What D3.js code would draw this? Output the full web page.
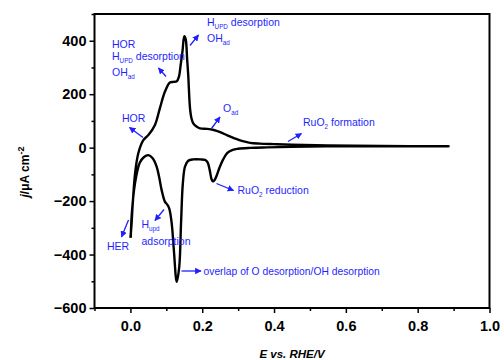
<!DOCTYPE html>
<html><head><meta charset="utf-8">
<script src="https://cdn.jsdelivr.net/npm/d3@7"></script>
<style>body{margin:0;background:#fff}svg{display:block}text{font-family:"Liberation Sans",Arial,sans-serif}</style>
</head><body><svg id="c" width="504" height="360"></svg>
<script>
// ---- data ----
const anodicE = [0.000,0.003,0.006,0.013,0.022,0.036,0.050,0.068,0.082,0.096,0.110,0.120,0.129,0.135,0.140,0.145,0.150,0.154,0.158,0.161,0.166,0.170,0.175,0.185,0.194,0.214,0.232,0.250,0.270,0.290,0.310,0.333,0.360,0.400,0.450,0.550,0.700,0.886];
const anodicJ = [-338,-290,-221,-96,-21,28,47,84,147,209,244,246,248,265,310,360,417,405,330,272,147,110,91,78,72,70,66,58,46,35,25,18,15,13,11,8,6,5];
const cathodicE = [0.886,0.700,0.546,0.450,0.380,0.333,0.300,0.285,0.270,0.258,0.248,0.240,0.234,0.230,0.226,0.221,0.215,0.208,0.195,0.175,0.161,0.152,0.146,0.141,0.136,0.129,0.121,0.115,0.108,0.102,0.096,0.087,0.080,0.073,0.062,0.050,0.038,0.026,0.013,0.004,0.001];
const cathodicJ = [5,5,5,3,1,-1,-4,-8,-20,-45,-75,-105,-122,-126,-118,-85,-55,-46,-44,-44,-49,-71,-134,-283,-446,-502,-383,-283,-227,-212,-202,-159,-110,-71,-40,-28,-35,-57,-132,-245,-336];
const xTicks = [0.0,0.2,0.4,0.6,0.8,1.0];
const xMinor = [-0.1,0.1,0.3,0.5,0.7,0.9];
const yTicks = [-600,-400,-200,0,200,400];
const yMinor = [-500,-300,-100,100,300,500];

// ---- layout ----
const svg = d3.select("#c");
const L=94.5,R=489.5,T=14,B=308;
const x = d3.scaleLinear().domain([-0.1,1.0]).range([L,R]);
const y = d3.scaleLinear().domain([-600,500]).range([B,T]);

// axes
svg.append("g").attr("transform",`translate(0,${B})`)
  .call(d3.axisBottom(x).tickValues(xTicks).tickFormat(d3.format(".1f")).tickSize(5).tickPadding(8));
svg.append("g").attr("transform",`translate(0,${B})`)
  .call(d3.axisBottom(x).tickValues(xMinor).tickFormat("").tickSize(3));
svg.append("g").attr("transform",`translate(${L},0)`)
  .call(d3.axisLeft(y).tickValues(yTicks).tickFormat(d3.format("d")).tickSize(5).tickPadding(3));
svg.append("g").attr("transform",`translate(${L},0)`)
  .call(d3.axisLeft(y).tickValues(yMinor).tickFormat("").tickSize(3));
svg.selectAll(".domain").remove();
svg.selectAll(".tick line").attr("stroke","#000").attr("stroke-width",1.5);
svg.selectAll(".tick text").attr("font-size",14.5).attr("font-weight","bold").attr("fill","#000")
  .attr("font-family","'Liberation Sans',Arial,sans-serif");

// frame
svg.append("rect").attr("x",L).attr("y",T).attr("width",R-L).attr("height",B-T)
  .attr("fill","none").attr("stroke","#000").attr("stroke-width",2);

// curve
const pts = anodicE.map((e,i)=>[e,anodicJ[i]]).concat(cathodicE.map((e,i)=>[e,cathodicJ[i]]));
const line = d3.line().x(d=>x(d[0])).y(d=>y(d[1])).curve(d3.curveCatmullRom.alpha(0.5));
svg.append("path").attr("d",line(pts)).attr("fill","none").attr("stroke","#000")
  .attr("stroke-width",2.4).attr("stroke-linejoin","round");

// axis titles
svg.append("text").attr("x",(L+R)/2).attr("y",358).attr("text-anchor","middle")
  .attr("font-size",11.5).attr("font-weight","bold").attr("font-style","italic").text("E vs. RHE/V");
const yt = svg.append("text").attr("transform","translate(29,172) rotate(-90)").attr("text-anchor","middle")
  .attr("font-size",12).attr("font-weight","bold");
yt.append("tspan").attr("font-style","italic").text("j");
yt.append("tspan").text("/\u03bcA cm");
yt.append("tspan").attr("dy",-5).attr("font-size",9).text("-2");

// annotations
const blue = "#1f1fff";
const defs = svg.append("defs");
defs.append("marker").attr("id","ah").attr("viewBox","0 0 10 10").attr("refX",9).attr("refY",5)
  .attr("markerWidth",5).attr("markerHeight",5).attr("orient","auto")
  .append("path").attr("d","M0,0L10,5L0,10z").attr("fill",blue);
function arrow(x1,y1,x2,y2){
  svg.append("line").attr("x1",x1).attr("y1",y1).attr("x2",x2).attr("y2",y2)
    .attr("stroke",blue).attr("stroke-width",1.3).attr("marker-end","url(#ah)");
}
function label(px,py,parts,fs){
  fs = fs||10.5;
  const t = svg.append("text").attr("x",px).attr("y",py).attr("font-size",fs).attr("fill",blue);
  let shift=0;
  parts.forEach(p=>{
    const [s,k]=p; const ts=t.append("tspan").text(s);
    if(k==="sub"){ ts.attr("font-size",fs*0.6).attr("dy",3-shift); shift=3; }
    else { if(shift){ts.attr("dy",-shift); shift=0;} }
  });
}
label(112,48,[["HOR"]]);
label(112,59.5,[["H"],["UPD","sub"],[" desorption"]]);
label(112,76,[["OH"],["ad","sub"]]);
arrow(166,76.5,158.5,68);
label(207,26,[["H"],["UPD","sub"],[" desorption"]]);
label(207,42,[["OH"],["ad","sub"]]);
arrow(190,45.5,198.5,35);
label(122,121.5,[["HOR"]]);
arrow(143,137.5,129.5,127.5);
label(223,112,[["O"],["ad","sub"]]);
arrow(211.5,128.5,220,117);
label(303,125.5,[["RuO"],["2","sub"],[" formation"]]);
arrow(288,141.5,301.5,133.5);
label(237.5,193.5,[["RuO"],["2","sub"],[" reduction"]]);
arrow(216.5,183.5,233.5,190.5);
label(107,250,[["HER"]]);
arrow(128.5,220,121.5,237);
label(141.5,228,[["H"],["upd","sub"]]);
label(141.5,245,[["adsorption"]]);
arrow(164,209.5,155,220.5);
label(203.5,275,[["overlap of O desorption/OH desorption"]],10.3);
arrow(181.5,271,201,271);
</script></body></html>
